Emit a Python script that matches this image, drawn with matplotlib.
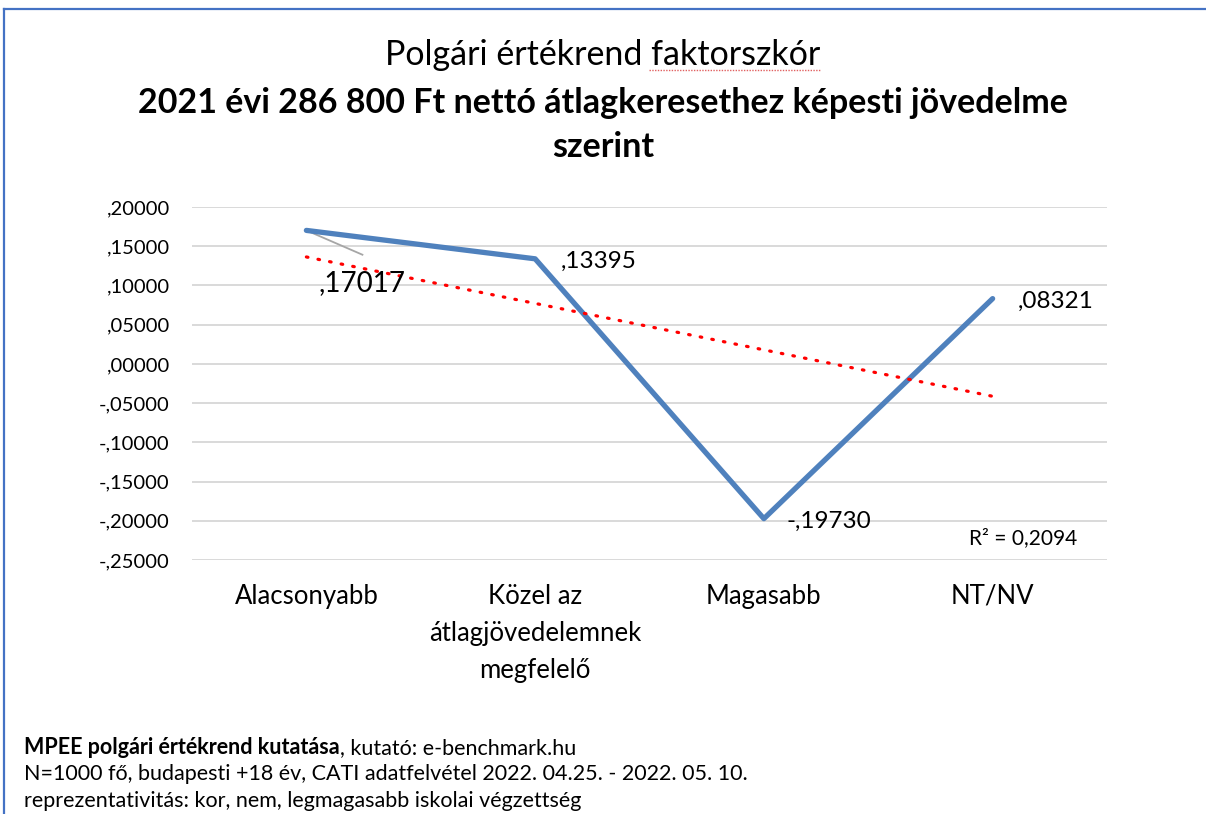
import matplotlib.pyplot as plt
import numpy as np

plt.rcParams['font.family'] = ['Lato', 'DejaVu Sans']

categories = ['Alacsonyabb', 'Közel az\nátlagjövedelemnek\nmegfelelő', 'Magasabb', 'NT/NV']
values = [0.17017, 0.13395, -0.19730, 0.08321]
value_labels = [',17017', ',13395', '-,19730', ',08321']
yticks = [0.20, 0.15, 0.10, 0.05, 0.00, -0.05, -0.10, -0.15, -0.20, -0.25]
ytick_labels = [',20000', ',15000', ',10000', ',05000', ',00000',
                '-,05000', '-,10000', '-,15000', '-,20000', '-,25000']
r2_text = 'R² = 0,2094'

W, H = 1206, 814
fig = plt.figure(figsize=(W / 100, H / 100), dpi=100)


def fx(px):
    return px / W


def fy(py):
    return 1 - py / H


ax = fig.add_axes([fx(192), fy(560), fx(1107) - fx(192), fy(207) - fy(560)])
x = np.arange(len(values))
ax.set_xlim(-0.5, len(values) - 0.5)
ax.set_ylim(-0.25, 0.20)

for v in yticks:
    ax.axhline(v, color='#d9d9d9', lw=1.4, zorder=0)

ax.plot(x, values, color='#4f81bd', lw=3.8, solid_capstyle='round',
        solid_joinstyle='round', zorder=3)

# linear trendline
coef = np.polyfit(x, values, 1)
trend = np.polyval(coef, x)
ax.plot(x, trend, color='#ff0000', lw=2.3, linestyle=(0, (0.5, 3.2)),
        dash_capstyle='round', zorder=4)

# data labels
ax.plot([x[0], x[0] + 0.245], [values[0], values[0] - 0.031], color='#a6a6a6', lw=1.3, zorder=2)
ax.text(x[0] + 0.055, values[0] - 0.05, value_labels[0], fontsize=20,
        ha='left', va='top', zorder=5)
ax.text(x[1] + 0.11, values[1] - 0.003, value_labels[1], fontsize=17.5,
        ha='left', va='center', zorder=5)
ax.text(x[2] + 0.10, values[2] - 0.004, value_labels[2], fontsize=17.5,
        ha='left', va='center', zorder=5)
ax.text(x[3] + 0.11, values[3] - 0.004, value_labels[3], fontsize=17.5,
        ha='left', va='center', zorder=5)
ax.text(3.37, -0.222, r2_text, fontsize=15, ha='right', va='center')

ax.set_yticks(yticks)
ax.set_yticklabels(ytick_labels, fontsize=14.5)
ax.set_xticks(x)
ax.set_xticklabels(categories, fontsize=18.5, linespacing=1.6, va='top')
ax.tick_params(length=0, pad=16, axis='y')
ax.tick_params(length=0, pad=17, axis='x')
for s in ax.spines.values():
    s.set_visible(False)

# titles
fig.text(0.5, fy(55), 'Polgári értékrend ', fontsize=24.5, ha='right', va='center', alpha=0)
t_a = fig.text(0.5, fy(55), 'Polgári értékrend faktorszkór', fontsize=24.5,
               ha='center', va='center')
fig.text(0.5, fy(103), '2021 évi 286 800 Ft nettó átlagkeresethez képesti jövedelme',
         fontsize=24.5, fontweight='bold', ha='center', va='center')
fig.text(0.5, fy(147), 'szerint', fontsize=24.5, fontweight='bold',
         ha='center', va='center')

# footer
t1 = fig.text(fx(24), fy(748), 'MPEE polgári értékrend kutatása', fontsize=15.5,
              fontweight='bold', va='center')
fig.canvas.draw()
bb = t1.get_window_extent()
fig.text(bb.x1 / W, fy(748), ', kutató: e-benchmark.hu', fontsize=15.5, va='center')
fig.text(fx(24), fy(774), 'N=1000 fő, budapesti +18 év, CATI adatfelvétel 2022. 04.25. - 2022. 05. 10.',
         fontsize=15.5, va='center')
fig.text(fx(24), fy(801), 'reprezentativitás: kor, nem, legmagasabb iskolai végzettség',
         fontsize=15.5, va='center')

# spell-check squiggle under "faktorszkór"
tb = t_a.get_window_extent(fig.canvas.get_renderer())
sq_x0 = tb.x0 + (tb.x1 - tb.x0) * 0.605
fig.add_artist(plt.Line2D([sq_x0 / W, tb.x1 / W], [fy(70), fy(70)], color='#e06060',
                          lw=1.0, linestyle=(0, (1, 1))))

# border
fig.add_artist(plt.Line2D([fx(4), 1], [fy(9), fy(9)], color='#4472c4', lw=1.6))
fig.add_artist(plt.Line2D([fx(4), fx(4)], [fy(9), 0], color='#4472c4', lw=1.6))

fig.savefig('out.png', dpi=100)
